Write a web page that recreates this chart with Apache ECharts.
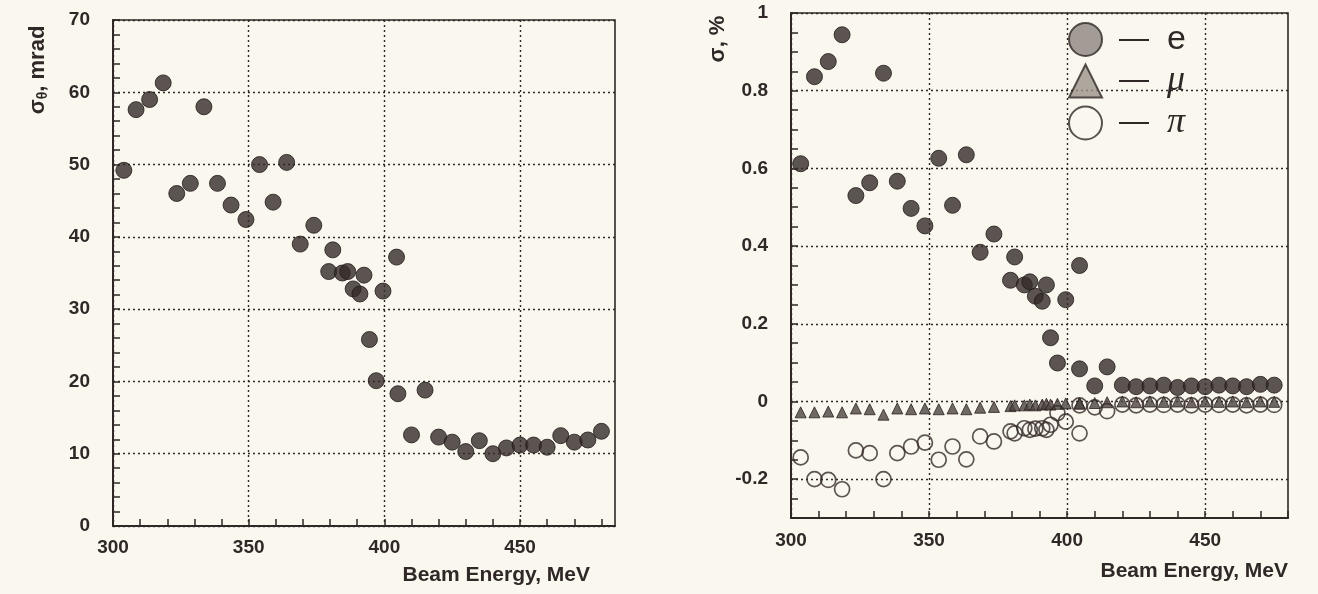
<!DOCTYPE html>
<html><head><meta charset="utf-8">
<script src="https://cdn.jsdelivr.net/npm/echarts@6/dist/echarts.min.js"></script>
<style>html,body{margin:0;padding:0;background:#faf7ef;}#c{width:1318px;height:594px;}</style>
</head><body><div id="c"></div>
<script>
// ---------- data ----------
const leftEnergy = [304, 308.5, 313.5, 318.5, 323.5, 328.5, 333.5, 338.5, 343.5, 349, 354, 359, 364, 369, 374,
  379.5, 381, 384.5, 386.5, 388.5, 391, 392.5, 394.5, 397, 399.5, 404.5, 405, 410, 415,
  420, 425, 430, 435, 440, 445, 450, 455, 460, 465, 470, 475, 480];
const sigmaTheta = [49.2, 57.6, 59, 61.3, 46, 47.4, 58, 47.4, 44.4, 42.4, 50, 44.8, 50.3, 39, 41.6,
  35.2, 38.2, 35.0, 35.2, 32.8, 32.1, 34.7, 25.8, 20.1, 32.5, 37.2, 18.3, 12.6, 18.8,
  12.3, 11.6, 10.3, 11.8, 10.0, 10.8, 11.2, 11.2, 10.9, 12.5, 11.6, 11.9, 13.1];

const rightEnergy = [303.5, 308.5, 313.5, 318.5, 323.5, 328.5, 333.5, 338.5, 343.5, 348.5, 353.5, 358.5, 363.5, 368.5, 373.5,
  379.5, 381, 384.5, 386.5, 388.5, 391, 392.5, 394, 396.5, 399.5, 404.5, 404.5, 410, 414.5,
  420, 425, 430, 435, 440, 445, 450, 455, 460, 465, 470, 475];
const sigmaE = [0.612, 0.836, 0.875, 0.944, 0.530, 0.563, 0.845, 0.567, 0.497, 0.452, 0.626, 0.505, 0.635, 0.384, 0.431,
  0.312, 0.372, 0.300, 0.308, 0.271, 0.258, 0.300, 0.164, 0.099, 0.262, 0.350, 0.084, 0.040, 0.089,
  0.042, 0.038, 0.040, 0.042, 0.036, 0.040, 0.038, 0.042, 0.040, 0.038, 0.044, 0.042];
const sigmaMu = [-0.028, -0.028, -0.026, -0.028, -0.018, -0.020, -0.034, -0.018, -0.020, -0.018, -0.020, -0.018, -0.020, -0.016, -0.014,
  -0.012, -0.010, -0.010, -0.008, -0.010, -0.008, -0.006, -0.008, -0.006, -0.005, -0.004, -0.006, -0.004, -0.002,
  0.000, -0.002, 0.000, -0.001, 0.000, -0.002, 0.000, -0.001, 0.000, -0.002, 0.000, -0.001];
const sigmaPi = [-0.144, -0.200, -0.202, -0.226, -0.126, -0.133, -0.200, -0.133, -0.116, -0.106, -0.150, -0.116, -0.149, -0.090, -0.103,
  -0.077, -0.082, -0.069, -0.073, -0.070, -0.069, -0.073, -0.060, -0.030, -0.052, -0.082, -0.010, -0.015, -0.025,
  -0.008, -0.010, -0.008, -0.009, -0.008, -0.010, -0.008, -0.009, -0.008, -0.010, -0.008, -0.009];

const xTickLabels = [300, 350, 400, 450];
const leftYTickLabels = [0, 10, 20, 30, 40, 50, 60, 70];
const rightYTickLabels = [-0.2, 0, 0.2, 0.4, 0.6, 0.8, 1];

// ---------- style ----------
const INK = '#2f2826';
const DOT = '#2f2826';
const BG = '#faf7ef';
const T = 'rgba(0,0,0,0)';
const FONT = '"Liberation Sans", Arial, sans-serif';

function zip(a, b) { return a.map((v, i) => [v, b[i]]); }
function inList(list, v) { return list.some(t => Math.abs(t - v) < 1e-6); }

const tickLabelStyle = { color: INK, fontFamily: FONT, fontWeight: 'bold', fontSize: 19 };
const gridLine = (colors) => ({ show: true, lineStyle: { color: colors, type: [2, 3], width: 1.4 } });
const axisLine = { show: true, onZero: false, lineStyle: { color: INK, width: 2 } };
const axisTick = { show: true, inside: true, length: 7, lineStyle: { color: INK, width: 1.5 } };

function fmtRight(v) {
  if (Math.abs(v) < 1e-9) return '0';
  if (Math.abs(v - 1) < 1e-9) return '1';
  return v.toFixed(1);
}

const chart = echarts.init(document.getElementById('c'), null, { renderer: 'canvas' });
chart.setOption({
  backgroundColor: BG,
  animation: false,
  grid: [
    { left: 113, top: 20, width: 502, height: 506, show: true, borderColor: INK, borderWidth: 1.6, backgroundColor: T },
    { left: 791, top: 13, width: 497, height: 505, show: true, borderColor: INK, borderWidth: 1.6, backgroundColor: T }
  ],
  xAxis: [
    { type: 'value', gridIndex: 0, min: 300, max: 485, interval: 10,
      axisLine, axisTick,
      axisLabel: { ...tickLabelStyle, margin: 12, showMaxLabel: false,
        formatter: v => inList(xTickLabels, v) ? String(v) : '' },
      splitLine: gridLine([DOT, T, T, T, T]),
      name: 'Beam Energy, MeV', nameLocation: 'end', nameGap: -25,
      nameTextStyle: { color: INK, fontFamily: FONT, fontWeight: 'bold', fontSize: 21, align: 'right', verticalAlign: 'top', padding: [39, 0, 0, 0] } },
    { type: 'value', gridIndex: 1, min: 300, max: 480, interval: 10,
      axisLine, axisTick,
      axisLabel: { ...tickLabelStyle, margin: 13,
        formatter: v => inList(xTickLabels, v) ? String(v) : '' },
      splitLine: gridLine([DOT, T, T, T, T]),
      name: 'Beam Energy, MeV', nameLocation: 'end', nameGap: 0,
      nameTextStyle: { color: INK, fontFamily: FONT, fontWeight: 'bold', fontSize: 21, align: 'right', verticalAlign: 'top', padding: [43, 0, 0, 0] } }
  ],
  yAxis: [
    { type: 'value', gridIndex: 0, min: 0, max: 70, interval: 2,
      axisLine, axisTick,
      axisLabel: { ...tickLabelStyle, margin: 23,
        formatter: v => inList(leftYTickLabels, v) ? String(v) : '' },
      splitLine: gridLine([DOT, T, T, T, T]) },
    { type: 'value', gridIndex: 1, min: -0.3, max: 1, interval: 0.05,
      axisLine, axisTick,
      axisLabel: { ...tickLabelStyle, margin: 23,
        formatter: v => inList(rightYTickLabels, v) ? fmtRight(v) : '' },
      splitLine: gridLine([T, T, DOT, T]) }
  ],
  legend: {
    orient: 'vertical', left: 1063, top: 17, itemWidth: 33, itemHeight: 33, itemGap: 6,
    selectedMode: false,
    data: [
      { name: 'e', icon: 'circle', itemStyle: { color: '#8d8580', borderColor: INK, borderWidth: 2 } },
      { name: 'μ', icon: 'triangle', itemStyle: { color: '#9a928a', borderColor: INK, borderWidth: 2 } },
      { name: 'π', icon: 'circle', itemStyle: { color: T, borderColor: INK, borderWidth: 2 } }
    ],
    formatter: name => name === 'e' ? '{d|—}{n|e}' : '{d|—}{i|' + name + '}',
    textStyle: {
      color: INK, fontFamily: FONT, fontSize: 30,
      rich: {
        d: { fontSize: 30, fontFamily: FONT, color: INK, padding: [0, 0, 0, 12] },
        n: { fontSize: 34, fontFamily: FONT, color: INK, padding: [0, 0, 0, 18] },
        i: { fontSize: 36, fontFamily: '"Liberation Serif", serif', fontStyle: 'italic', color: INK, padding: [0, 0, 0, 18] }
      }
    }
  },
  graphic: [
    { type: 'text', x: 38, y: 70, rotation: Math.PI / 2,
      style: { text: 'σ{s|θ}, mrad', fill: INK, font: 'bold 22px "Liberation Sans", Arial, sans-serif',
        align: 'center', verticalAlign: 'middle',
        rich: { s: { fontSize: 14, fontWeight: 'bold', fontFamily: FONT, fill: INK, padding: [10, 0, 0, 0] } } } },
    { type: 'text', x: 718, y: 39, rotation: Math.PI / 2,
      style: { text: 'σ, %', fill: INK, font: 'bold 22px "Liberation Sans", Arial, sans-serif',
        align: 'center', verticalAlign: 'middle' } }
  ],
  series: [
    { name: 'σθ', type: 'scatter', xAxisIndex: 0, yAxisIndex: 0, data: zip(leftEnergy, sigmaTheta),
      symbol: 'circle', symbolSize: 16, itemStyle: { color: '#352b28', borderColor: '#221b19', borderWidth: 1 } },
    { name: 'μ', type: 'scatter', xAxisIndex: 1, yAxisIndex: 1, data: zip(rightEnergy, sigmaMu),
      symbol: 'triangle', symbolSize: 11, itemStyle: { color: '#4e4540', borderColor: '#2a2220', borderWidth: 1 } },
    { name: 'π', type: 'scatter', xAxisIndex: 1, yAxisIndex: 1, data: zip(rightEnergy, sigmaPi),
      symbol: 'circle', symbolSize: 15, itemStyle: { color: T, borderColor: '#352b28', borderWidth: 1.7 } },
    { name: 'e', type: 'scatter', xAxisIndex: 1, yAxisIndex: 1, data: zip(rightEnergy, sigmaE),
      symbol: 'circle', symbolSize: 16, itemStyle: { color: '#352b28', borderColor: '#221b19', borderWidth: 1 } }
  ]
});
</script></body></html>
